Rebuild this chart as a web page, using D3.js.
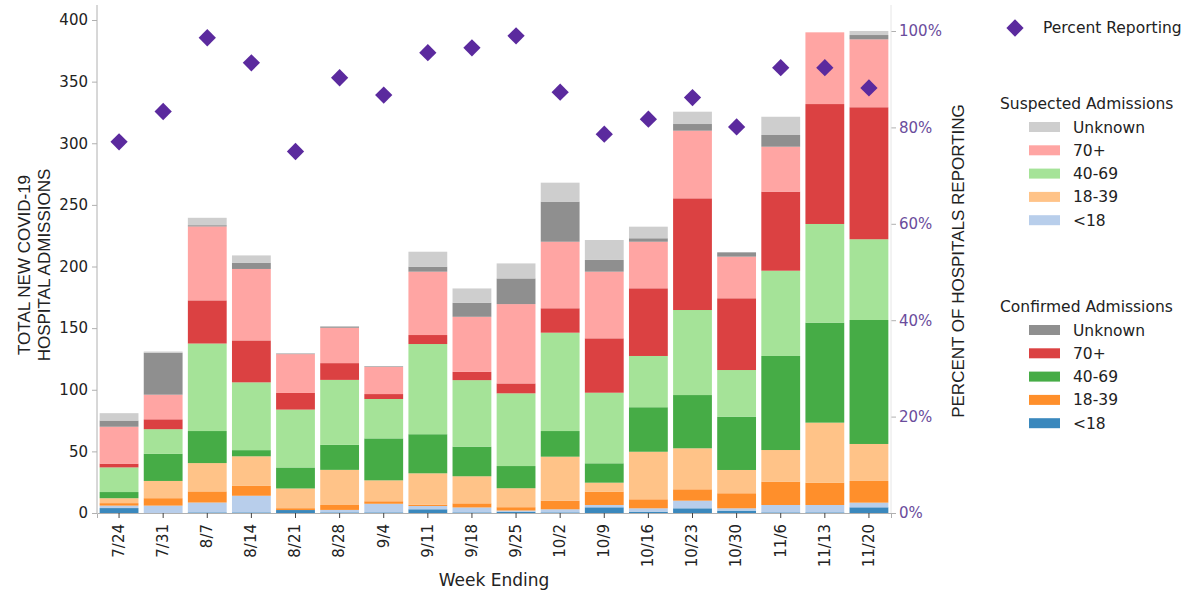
<!DOCTYPE html>
<html lang="en">
<head>
<meta charset="UTF-8">
<title>COVID-19 Hospital Admissions</title>
<script src="https://d3js.org/d3.v7.min.js"></script>
<style>
  body { margin: 0; background: #fff; font-family: "DejaVu Sans", sans-serif; }
  svg { display: block; }
  .tick text { font-family: "DejaVu Sans", sans-serif; }
</style>
</head>
<body>
<svg width="1197" height="594"></svg>
<script>
// week ending labels
const weeks = ["7/24","7/31","8/7","8/14","8/21","8/28","9/4","9/11","9/18","9/25",
               "10/2","10/9","10/16","10/23","10/30","11/6","11/13","11/20"];

// confirmed admissions by age group
const confUnder18 = [4, 0, 0.5, 0.5, 2.4, 0.5, 0.5, 3, 0.5, 1, 0.5, 4.6, 1, 3.8, 1.9, 0.5, 0.5, 4.6];
const conf18to39  = [2, 6, 9, 8, 1.5, 4, 2, 1, 3.3, 2.7, 7, 10.8, 7.3, 9.2, 12.2, 18.9, 18.1, 17.6];
const conf40to69  = [5, 22, 26, 5, 17, 20.3, 34, 31.7, 24, 18, 20.8, 15.7, 36.1, 43.2, 43.2, 76.3, 81.1, 100.6];
const conf70plus  = [3, 8, 35, 34, 13.5, 13.6, 4, 7.3, 6.7, 8, 19.8, 44.1, 54.9, 90.6, 58.2, 64.1, 97.3, 107.1];
const confUnknown = [5, 34, 1, 5, 0.5, 1, 0.5, 4, 11.3, 20.8, 32.5, 9.5, 2.8, 5.4, 3.5, 9.5, 0, 3.5];

// suspected admissions by age group
const suspUnder18 = [2, 6, 8, 13.5, 0, 2, 7, 2.7, 4, 1, 2.5, 1.9, 2.8, 6.2, 1.9, 6, 6, 3.8];
const susp18to39  = [4, 14, 23, 24, 16, 28.5, 17, 25.5, 22, 15.4, 35.7, 7.3, 38.6, 33.3, 18.9, 25.7, 48.7, 30];
const susp40to69  = [20, 20, 71, 55, 47, 52.7, 32, 73.2, 54, 59, 79.8, 57.3, 41.6, 69, 37.9, 69.2, 80.1, 65.5];
const susp70plus  = [30, 20, 60, 58, 31.5, 28.7, 22, 51.4, 44.7, 64.4, 54, 54.1, 37.8, 54.9, 33.8, 36.5, 58.2, 55.1];
const suspUnknown = [6, 1, 6, 6, 0, 0, 0, 12.2, 11.7, 12.2, 15.4, 16.2, 9.4, 10, 0, 14.8, 0, 3.3];

// percent of hospitals reporting
const pctReporting = [77.0, 83.3, 98.6, 93.4, 75.0, 90.3, 86.7, 95.5, 96.5, 99.0,
                      87.3, 78.6, 81.7, 86.2, 80.1, 92.4, 92.4, 88.2];

// stacking order, bottom to top
const layers = [
  {key: "c0", vals: confUnder18, color: "#1f77b4"},
  {key: "s0", vals: suspUnder18, color: "#aec7e8"},
  {key: "c1", vals: conf18to39,  color: "#ff7f0e"},
  {key: "s1", vals: susp18to39,  color: "#ffbb78"},
  {key: "c2", vals: conf40to69,  color: "#2ca02c"},
  {key: "s2", vals: susp40to69,  color: "#98df8a"},
  {key: "c3", vals: conf70plus,  color: "#d62728"},
  {key: "s3", vals: susp70plus,  color: "#ff9896"},
  {key: "c4", vals: confUnknown, color: "#7f7f7f"},
  {key: "s4", vals: suspUnknown, color: "#c7c7c7"}
];

const ageLabels = ["Unknown", "70+", "40-69", "18-39", "<18"];
const suspColors = ["#c7c7c7", "#ff9896", "#98df8a", "#ffbb78", "#aec7e8"];
const confColors = ["#7f7f7f", "#d62728", "#2ca02c", "#ff7f0e", "#1f77b4"];

const svg = d3.select("svg");
const left = 97, right = 891, bottom = 513;
const purple = "#5b2a9e";
const axisGray = "#b0b0b0";

const table = weeks.map((w, i) => {
  const row = {week: w};
  layers.forEach(l => row[l.key] = l.vals[i]);
  return row;
});
const stack = d3.stack().keys(layers.map(l => l.key))(table);

const x = d3.scaleBand().domain(weeks).range([left, right])
  .paddingInner(0.12).paddingOuter(0.06);
const y = d3.scaleLinear().domain([0, 400]).range([bottom, 20]);
const y2 = d3.scaleLinear().domain([0, 1]).range([bottom, 31]);

// bars
svg.append("g").selectAll("g")
  .data(stack)
  .join("g")
  .attr("fill", (d, i) => layers[i].color)
  .attr("fill-opacity", 0.88)
  .selectAll("rect")
  .data(d => d)
  .join("rect")
  .attr("x", d => x(d.data.week))
  .attr("width", x.bandwidth())
  .attr("y", d => y(d[1]))
  .attr("height", d => y(d[0]) - y(d[1]));

// left axis
const gy = svg.append("g").attr("transform", `translate(${left},0)`)
  .call(d3.axisLeft(y).tickValues(d3.range(0, 401, 50)).tickSize(5).tickPadding(4));
gy.select(".domain").remove();
gy.selectAll(".tick line").attr("stroke", axisGray);
gy.selectAll(".tick text").attr("font-size", 15).attr("fill", "#222");
svg.append("line").attr("x1", left).attr("x2", left).attr("y1", 5).attr("y2", bottom)
  .attr("stroke", axisGray);

// right axis
const gy2 = svg.append("g").attr("transform", `translate(${right},0)`)
  .call(d3.axisRight(y2).tickValues(d3.range(0, 1.01, 0.2))
    .tickFormat(d3.format(".0%")).tickSize(5).tickPadding(3));
gy2.select(".domain").remove();
gy2.selectAll(".tick line").attr("stroke", axisGray);
gy2.selectAll(".tick text").attr("font-size", 15).attr("fill", "#6a4c9c");
svg.append("line").attr("x1", right).attr("x2", right).attr("y1", 5).attr("y2", bottom)
  .attr("stroke", "#e6e6e6");

// bottom axis, rotated labels
const gx = svg.append("g").attr("transform", `translate(0,${bottom})`)
  .call(d3.axisBottom(x).tickSize(5).tickPadding(4));
gx.select(".domain").attr("stroke", axisGray);
gx.selectAll(".tick line").attr("stroke", "#444");
gx.selectAll(".tick text")
  .attr("font-size", 15).attr("fill", "#222")
  .attr("text-anchor", "end")
  .attr("x", 0).attr("y", 0)
  .attr("dy", "0.32em")
  .attr("transform", "translate(0,11) rotate(-90)");

// percent reporting diamonds
const diamond = d3.symbol().type(d3.symbolDiamond2).size(190);
svg.append("g").selectAll("path")
  .data(pctReporting)
  .join("path")
  .attr("d", diamond)
  .attr("transform", (d, i) => `translate(${x(weeks[i]) + x.bandwidth() / 2},${y2(d / 100)})`)
  .attr("fill", purple);

// axis titles
svg.append("text")
  .attr("transform", "translate(30,265) rotate(-90)")
  .attr("text-anchor", "middle")
  .attr("font-family", "Liberation Sans, Arial, sans-serif")
  .attr("font-size", 17).attr("fill", "#222")
  .selectAll("tspan")
  .data(["TOTAL NEW COVID-19", "HOSPITAL ADMISSIONS"])
  .join("tspan")
  .attr("x", 0).attr("dy", (d, i) => i ? "1.15em" : 0)
  .text(d => d);

svg.append("text")
  .attr("transform", "translate(964,261) rotate(-90)")
  .attr("text-anchor", "middle")
  .attr("font-family", "Liberation Sans, Arial, sans-serif")
  .attr("font-size", 17).attr("fill", "#222")
  .text("PERCENT OF HOSPITALS REPORTING");

svg.append("text")
  .attr("x", 494).attr("y", 586)
  .attr("text-anchor", "middle")
  .attr("font-size", 17).attr("fill", "#222")
  .text("Week Ending");

// legend
const leg = svg.append("g").attr("font-size", 15.5).attr("fill", "#222");
leg.append("path").attr("d", diamond).attr("transform", "translate(1015,28)").attr("fill", purple);
leg.append("text").attr("x", 1043).attr("y", 33).text("Percent Reporting");

function legendBlock(title, colors, top) {
  leg.append("text").attr("x", 1000).attr("y", top).text(title);
  ageLabels.forEach((lab, i) => {
    const cy = top + 18 + i * 23.3;
    leg.append("rect").attr("x", 1029).attr("y", cy - 5).attr("width", 31).attr("height", 10)
      .attr("fill", colors[i]).attr("fill-opacity", 0.88);
    leg.append("text").attr("x", 1073).attr("y", cy + 5.5).text(lab);
  });
}
legendBlock("Suspected Admissions", suspColors, 109);
legendBlock("Confirmed Admissions", confColors, 312);
</script>
</body>
</html>
